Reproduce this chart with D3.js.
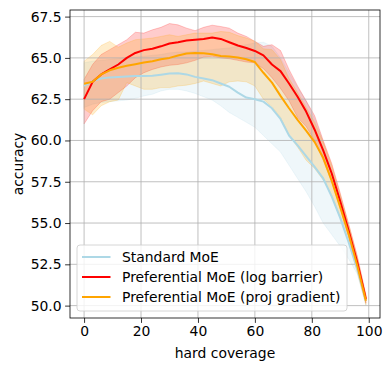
<!DOCTYPE html>
<html>
<head>
<meta charset="utf-8">
<script src="https://cdn.jsdelivr.net/npm/d3@7"></script>
<style>
    body { margin: 0; background: #fff; }
    text { font-family: "DejaVu Sans", sans-serif; }
</style>
</head>
<body>
<div id="chart"></div>
<script>
var coverage = [0,3,6,9,12,15,18,21,24,27,30,33,36,39,42,45,48,51,54,57,60,63,66,69,72,75,78,81,84,87,90,93,96,99];

var standardMean = [63.3,63.6,63.75,63.82,63.85,63.88,63.9,63.9,63.92,63.98,64.05,64.07,64.0,63.85,63.75,63.65,63.45,63.25,62.9,62.6,62.5,62.35,61.95,61.3,60.3,59.7,59.05,58.4,57.7,56.6,55.3,53.8,52.2,50.3];
var standardLow = [62.0,62.2,62.3,62.35,62.4,62.45,62.55,62.7,62.8,63.0,63.1,63.1,63.0,62.85,62.65,62.45,62.1,61.7,61.4,61.1,60.8,60.3,59.8,59.3,58.5,57.7,56.9,56.0,55.0,54.3,53.6,52.8,51.9,50.0];
var standardHigh = [64.7,64.8,64.85,64.9,64.95,65.0,65.05,65.1,65.15,65.2,65.3,65.35,65.35,65.4,65.45,65.5,65.55,65.6,65.7,65.8,65.9,65.95,65.7,65.0,64.1,63.2,62.4,61.3,59.9,58.3,56.6,54.7,52.8,50.6];

var logBarrierMean = [62.5,63.55,64.0,64.3,64.6,65.0,65.3,65.47,65.55,65.7,65.87,65.95,66.05,66.1,66.15,66.23,66.15,65.95,65.75,65.6,65.42,65.15,64.6,64.2,63.45,62.65,61.75,60.65,59.4,58.0,56.3,54.5,52.6,50.4];
var logBarrierLow = [61.0,61.8,62.35,62.5,62.9,63.3,63.8,64.1,64.3,64.45,64.55,64.6,64.7,64.85,65.05,65.1,65.0,64.95,64.85,64.75,64.7,64.35,63.8,63.15,62.4,61.4,60.85,60.0,58.8,57.5,55.9,54.1,52.2,50.15];
var logBarrierHigh = [63.7,64.6,65.2,65.5,65.8,66.1,66.55,66.5,66.7,66.85,67.08,67.0,66.8,66.65,66.85,66.98,66.9,66.8,66.5,66.3,66.0,65.7,65.8,65.45,64.3,63.3,62.4,61.5,60.0,58.6,56.8,54.9,53.0,50.65];

var projGradMean = [63.44,63.55,64.0,64.25,64.4,64.52,64.62,64.72,64.8,64.92,65.0,65.15,65.27,65.3,65.28,65.22,65.12,65.08,65.02,64.92,64.75,64.1,63.5,62.7,61.95,61.25,60.6,59.9,58.95,57.55,55.95,54.3,52.4,50.3];
var projGradLow = [61.9,61.55,62.1,62.35,62.45,63.5,63.3,63.1,63.1,63.2,63.2,63.3,63.35,63.45,63.6,63.45,63.3,63.55,63.6,63.55,63.3,62.5,62.05,61.4,60.3,59.6,58.8,58.3,57.6,56.7,55.4,53.8,52.0,50.05];
var projGradHigh = [64.8,65.2,65.75,66.0,65.65,65.9,66.1,66.15,66.2,66.3,66.4,66.3,66.4,66.5,66.5,66.5,66.6,66.55,66.35,66.2,66.0,65.55,65.5,64.9,63.75,62.9,62.0,61.1,59.9,58.5,56.7,54.9,52.9,50.6];

var seriesNames = ["Standard MoE", "Preferential MoE (log barrier)", "Preferential MoE (proj gradient)"];
var seriesColors = ["lightblue", "red", "orange"];

var xTicks = [0, 20, 40, 60, 80, 100];
var yTicks = [50.0, 52.5, 55.0, 57.5, 60.0, 62.5, 65.0, 67.5];
var xLabel = "hard coverage";
var yLabel = "accuracy";

function CoverageChart(){
    var self = this;
    self.svgWidth = 392;
    self.svgHeight = 371;
    self.left = 70;
    self.right = 380;
    self.top = 10;
    self.bottom = 318;
    self.lineWidth = 2;
    self.init();
}

CoverageChart.prototype.init = function(){
    var self = this;

    self.svg = d3.select("#chart").append("svg")
        .attr("width", self.svgWidth)
        .attr("height", self.svgHeight);

    self.xScale = d3.scaleLinear()
        .domain([-4.95, 103.95])
        .range([self.left, self.right]);

    self.yScale = d3.scaleLinear()
        .domain([49.25, 67.9])
        .range([self.bottom, self.top]);

    var series = [
        {mean: standardMean, low: standardLow, high: standardHigh},
        {mean: logBarrierMean, low: logBarrierLow, high: logBarrierHigh},
        {mean: projGradMean, low: projGradLow, high: projGradHigh}
    ];

    //shaded bands first
    var area = d3.area()
        .x(function(d) { return self.xScale(d.x); })
        .y0(function(d) { return self.yScale(d.lo); })
        .y1(function(d) { return self.yScale(d.hi); });

    series.forEach(function(s, i){
        var pts = coverage.map(function(c, j){ return {x: c, lo: s.low[j], hi: s.high[j]}; });
        self.svg.append("path")
            .datum(pts)
            .attr("d", area)
            .style("fill", seriesColors[i])
            .style("fill-opacity", 0.2)
            .style("stroke", seriesColors[i])
            .style("stroke-opacity", 0.2)
            .style("stroke-width", 1);
    });

    //grid sits above the fills, below the lines
    var grid = self.svg.append("g").attr("class", "grid");
    grid.selectAll(".gx").data(xTicks).enter().append("line")
        .attr("x1", function(d){ return self.xScale(d); })
        .attr("x2", function(d){ return self.xScale(d); })
        .attr("y1", self.top).attr("y2", self.bottom)
        .style("stroke", "#b0b0b0").style("stroke-width", 0.8);
    grid.selectAll(".gy").data(yTicks).enter().append("line")
        .attr("y1", function(d){ return self.yScale(d); })
        .attr("y2", function(d){ return self.yScale(d); })
        .attr("x1", self.left).attr("x2", self.right)
        .style("stroke", "#b0b0b0").style("stroke-width", 0.8);

    var line = d3.line()
        .x(function(d) { return self.xScale(d.x); })
        .y(function(d) { return self.yScale(d.y); });

    series.forEach(function(s, i){
        var pts = coverage.map(function(c, j){ return {x: c, y: s.mean[j]}; });
        self.svg.append("path")
            .datum(pts)
            .attr("d", line)
            .style("fill", "none")
            .style("stroke", seriesColors[i])
            .style("stroke-width", self.lineWidth)
            .style("stroke-linejoin", "round");
    });

    //axes
    var xAxis = self.svg.append("g")
        .attr("transform", "translate(0," + self.bottom + ")")
        .call(d3.axisBottom(self.xScale).tickValues(xTicks).tickSize(4.9).tickPadding(3.5).tickFormat(d3.format("d")));
    var yAxis = self.svg.append("g")
        .attr("transform", "translate(" + self.left + ",0)")
        .call(d3.axisLeft(self.yScale).tickValues(yTicks).tickSize(4.9).tickPadding(3.5).tickFormat(d3.format(".1f")));

    [xAxis, yAxis].forEach(function(ax){
        ax.select(".domain").remove();
        ax.selectAll(".tick line").style("stroke", "#000").style("stroke-width", 0.8);
        ax.selectAll(".tick text")
            .style("font-size", "13.9px")
            .style("font-family", "DejaVu Sans")
            .style("fill", "#000");
    });

    self.svg.append("rect")
        .attr("x", self.left).attr("y", self.top)
        .attr("width", self.right - self.left)
        .attr("height", self.bottom - self.top)
        .style("fill", "none")
        .style("stroke", "#000")
        .style("stroke-width", 0.8);

    self.svg.append("text")
        .attr("x", (self.left + self.right) / 2)
        .attr("y", 358)
        .attr("text-anchor", "middle")
        .style("font-size", "13.9px")
        .text(xLabel);

    self.svg.append("text")
        .attr("transform", "translate(23," + ((self.top + self.bottom) / 2) + ") rotate(-90)")
        .attr("text-anchor", "middle")
        .style("font-size", "13.9px")
        .text(yLabel);

    self.drawLegend();
};

CoverageChart.prototype.drawLegend = function(){
    var self = this;
    var lg = self.svg.append("g").attr("transform", "translate(77,245)");

    lg.append("rect")
        .attr("width", 270)
        .attr("height", 66)
        .attr("rx", 3)
        .style("fill", "#fff")
        .style("fill-opacity", 0.8)
        .style("stroke", "#cccccc")
        .style("stroke-width", 0.8);

    seriesNames.forEach(function(name, i){
        var cy = 12 + i * 20;
        lg.append("line")
            .attr("x1", 5).attr("x2", 33.5)
            .attr("y1", cy).attr("y2", cy)
            .style("stroke", seriesColors[i])
            .style("stroke-width", self.lineWidth);
        lg.append("text")
            .attr("x", 45)
            .attr("y", cy + 5)
            .style("font-size", "13.9px")
            .style("fill", "#000")
            .text(name);
    });
};

new CoverageChart();
</script>
</body>
</html>
